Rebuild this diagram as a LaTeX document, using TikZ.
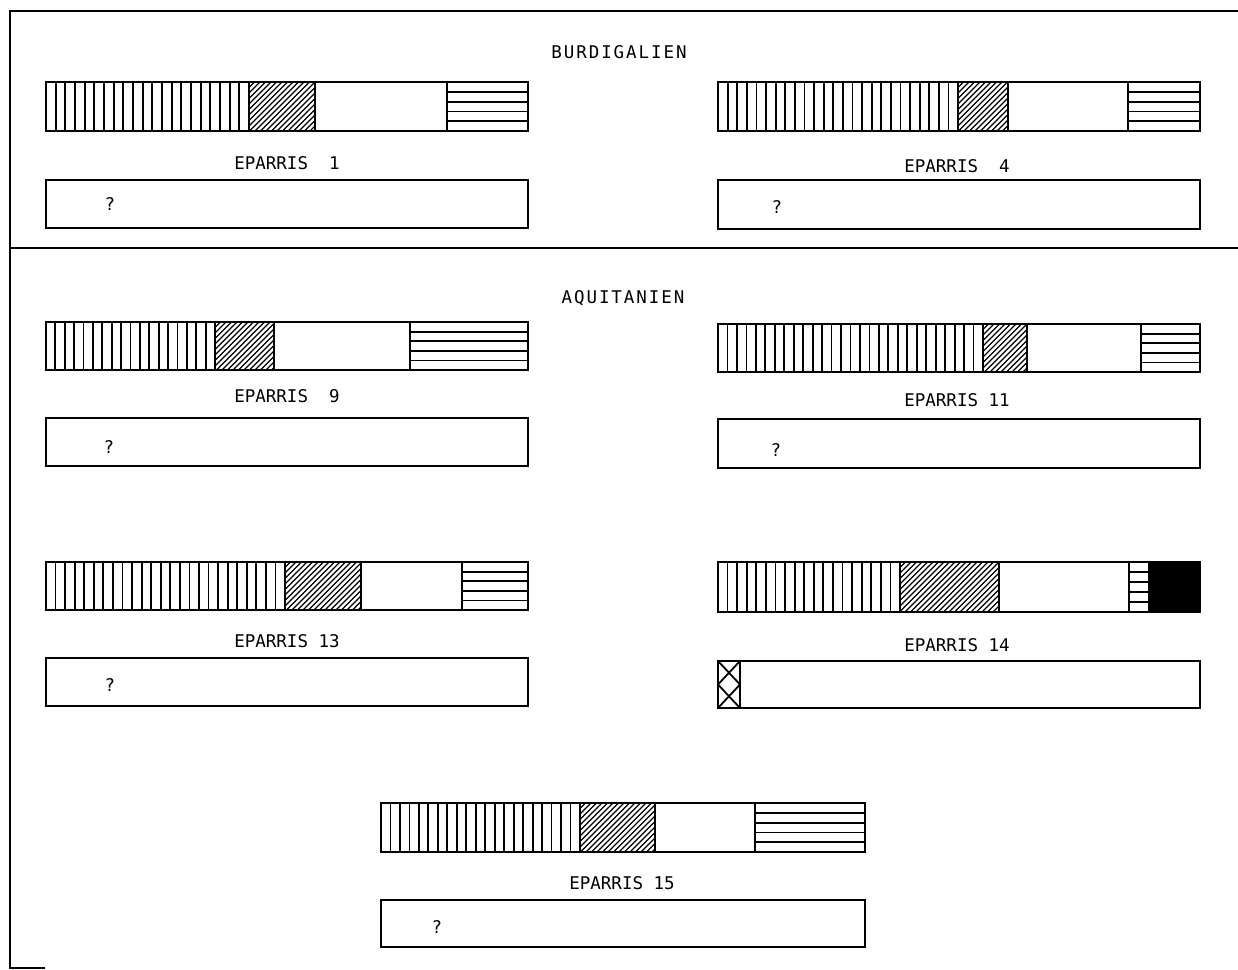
\documentclass[tikz,border=0pt]{standalone}
\usepackage{fontspec}
\newfontfamily\lpfont{DejaVu Sans Mono}
\newfontfamily\lphead[LetterSpace=11]{DejaVu Sans Mono}
\tikzset{
  outl/.style={line width=2pt, draw=black},
  stripe/.style={line width=1.8pt, draw=black},
  hatchline/.style={line width=1.1pt, draw=black},
  frameline/.style={line width=1.8pt, draw=black},
  boxnode/.style={draw=black, line width=2pt, inner sep=0pt, rectangle},
  lbl/.style={font=\lpfont\fontsize{17.5}{17.5}\selectfont, inner sep=0pt},
  head/.style={font=\lphead\fontsize{17.5}{17.5}\selectfont, inner sep=0pt},
  qm/.style={font=\lpfont\fontsize{17.5}{17.5}\selectfont, inner sep=0pt}
}
% vertical stripes: xa xb ya yb
\newcommand\vstr[4]{%
  \pgfmathtruncatemacro\nst{round((#2-#1)/9.6)}%
  \pgfmathsetmacro\dst{(#2-#1)/\nst}%
  \pgfmathtruncatemacro\nsm{\nst-1}%
  \foreach \i in {1,...,\nsm} \draw[stripe] ({#1+\i*\dst},#3) -- ({#1+\i*\dst},#4);%
  \draw[outl] (#1,#3) rectangle (#2,#4);}
% diagonal hatch
\newcommand\hatchr[4]{%
  \begin{scope}
    \clip (#1,#3) rectangle (#2,#4);
    \pgfmathsetmacro\hh{#4-#3}%
    \foreach \k in {0,...,32} \draw[hatchline] ({#1-\hh+\k*5.5},#4) -- ({#1+\k*5.5},#3);
  \end{scope}
  \draw[outl] (#1,#3) rectangle (#2,#4);}
% horizontal stripes (5 rows)
\newcommand\hstr[4]{%
  \foreach \i in {1,...,4} \draw[stripe] (#1,{#3+\i*(#4-#3)/5}) -- (#2,{#3+\i*(#4-#3)/5});%
  \draw[outl] (#1,#3) rectangle (#2,#4);}
\newcommand\whiteseg[4]{\draw[outl] (#1,#3) rectangle (#2,#4);}
\newcommand\blackseg[4]{\filldraw[outl, fill=black] (#1,#3) rectangle (#2,#4);}
\begin{document}
\begin{tikzpicture}[x=1pt,y=-1pt]
\useasboundingbox (0,0) rectangle (1238,969);
\fill[white] (0,0) rectangle (1238,969);
% frame
\coordinate (ftr) at (1238,11);
\coordinate (ftl) at (10,11);
\coordinate (fbl) at (10,968);
\coordinate (fbe) at (45,968);
\draw[frameline] (ftr) -- (ftl) -- (fbl) -- (fbe);
\coordinate (sepl) at (10,248);
\coordinate (sepr) at (1238,248);
\draw[frameline] (sepl) -- (sepr);
% headings
\node[head] (hburd) at (619,52) {BURDIGALIEN};
\node[head] (haqui) at (623,298) {AQUITANIEN};
% EPARRIS 1
\vstr{46}{249}{82}{131}\hatchr{249}{315}{82}{131}\whiteseg{315}{447}{82}{131}\hstr{447}{528}{82}{131}
\node[lbl] (l1) at (287,163) {EPARRIS\ \ 1};
\node[boxnode, minimum width=482pt, minimum height=48pt] (b1) at (287,204) {};
\node[qm] (q1) at (110,204) {?};
% EPARRIS 4
\vstr{718}{958}{82}{131}\hatchr{958}{1008}{82}{131}\whiteseg{1008}{1128}{82}{131}\hstr{1128}{1200}{82}{131}
\node[lbl] (l4) at (957,166) {EPARRIS\ \ 4};
\node[boxnode, minimum width=482pt, minimum height=49pt] (b4) at (959,204.5) {};
\node[qm] (q4) at (777,207) {?};
% EPARRIS 9
\vstr{46}{215}{322}{370}\hatchr{215}{274}{322}{370}\whiteseg{274}{410}{322}{370}\hstr{410}{528}{322}{370}
\node[lbl] (l9) at (287,396) {EPARRIS\ \ 9};
\node[boxnode, minimum width=482pt, minimum height=48pt] (b9) at (287,442) {};
\node[qm] (q9) at (109,447) {?};
% EPARRIS 11
\vstr{718}{983}{324}{372}\hatchr{983}{1027}{324}{372}\whiteseg{1027}{1141}{324}{372}\hstr{1141}{1200}{324}{372}
\node[lbl] (l11) at (957,400) {EPARRIS 11};
\node[boxnode, minimum width=482pt, minimum height=49pt] (b11) at (959,443.5) {};
\node[qm] (q11) at (776,450) {?};
% EPARRIS 13
\vstr{46}{285}{562}{610}\hatchr{285}{361}{562}{610}\whiteseg{361}{462}{562}{610}\hstr{462}{528}{562}{610}
\node[lbl] (l13) at (287,641) {EPARRIS 13};
\node[boxnode, minimum width=482pt, minimum height=48pt] (b13) at (287,682) {};
\node[qm] (q13) at (110,685) {?};
% EPARRIS 14
\vstr{718}{900}{562}{612}\hatchr{900}{999}{562}{612}\whiteseg{999}{1129}{562}{612}\hstr{1129}{1149}{562}{612}\blackseg{1149}{1200}{562}{612}
\node[lbl] (l14) at (957,645) {EPARRIS 14};
\node[boxnode, minimum width=482pt, minimum height=47pt] (b14) at (959,684.5) {};
\coordinate (xa) at (718,661);
\coordinate (xb) at (740,661);
\coordinate (xc) at (718,684.5);
\coordinate (xd) at (740,684.5);
\coordinate (xe) at (718,708);
\coordinate (xf) at (740,708);
\draw[outl] (xb) -- (xf);
\draw[stripe] (xa) -- (xd) (xb) -- (xc) (xc) -- (xf) (xd) -- (xe);
% EPARRIS 15
\vstr{381}{580}{803}{852}\hatchr{580}{655}{803}{852}\whiteseg{655}{755}{803}{852}\hstr{755}{865}{803}{852}
\node[lbl] (l15) at (622,883) {EPARRIS 15};
\node[boxnode, minimum width=484pt, minimum height=47pt] (b15) at (623,923.5) {};
\node[qm] (q15) at (437,927) {?};
\end{tikzpicture}
\end{document}
